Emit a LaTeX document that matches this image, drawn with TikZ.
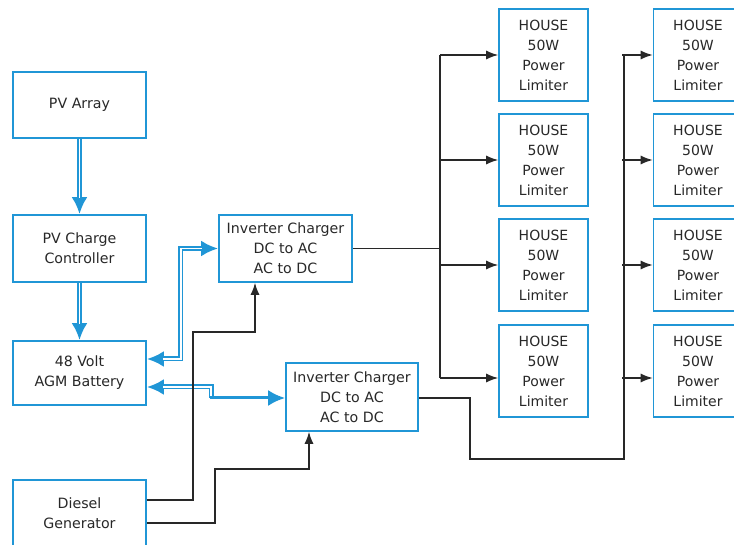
\documentclass[tikz,border=0pt]{standalone}
\usepackage{fontspec}
\setmainfont{DejaVu Sans}
\usetikzlibrary{arrows.meta}
\definecolor{boxblue}{RGB}{32,150,214}
\definecolor{linegray}{RGB}{40,40,40}
\definecolor{textgray}{RGB}{40,40,40}
\tikzset{
  blk/.style={draw=boxblue, line width=1.6pt, fill=white, align=center, text=textgray,
    font=\fontsize{14.2}{20}\selectfont, inner sep=0pt},
  housebox/.style={blk, minimum width=89pt, minimum height=92pt, font=\fontsize{14}{20}\selectfont},
  wire/.style={draw=linegray, line width=1.3pt},
  wirearrow/.style={wire, -{Latex[length=12pt,width=9pt]}},
  bluebase/.style={draw=boxblue, line width=5pt},
  bluegap/.style={draw=white, line width=1.6pt},
  btip/.tip={Latex[length=17pt,width=16pt]},
}
\begin{document}
\begin{tikzpicture}[x=1pt,y=-1pt]
\useasboundingbox (0,0) rectangle (734,545);
\begin{scope}
\clip (0,0) rectangle (734,545);
% left column
\node[blk, minimum width=133pt, minimum height=66pt] (pv) at (79.5,105) {PV Array};
\node[blk, minimum width=133pt, minimum height=67pt] (cc) at (79.5,248.5) {PV Charge\\Controller};
\node[blk, minimum width=133pt, minimum height=64pt] (bat) at (79.5,373) {48 Volt\\AGM Battery};
\node[blk, minimum width=133pt, minimum height=67pt] (dg) at (79.5,513.5) {Diesel\\Generator};
% inverters
\node[blk, minimum width=133pt, minimum height=67pt] (inv1) at (285.5,248.5) {Inverter Charger\\DC to AC\\AC to DC};
\node[blk, minimum width=132pt, minimum height=68pt] (inv2) at (352,397) {Inverter Charger\\DC to AC\\AC to DC};
% houses
\node[housebox] (ha1) at (543.5,55) {HOUSE\\50W\\Power\\Limiter};
\node[housebox] (ha2) at (543.5,160) {HOUSE\\50W\\Power\\Limiter};
\node[housebox] (ha3) at (543.5,265) {HOUSE\\50W\\Power\\Limiter};
\node[housebox] (ha4) at (543.5,371) {HOUSE\\50W\\Power\\Limiter};
\node[housebox] (hb1) at (698,55) {HOUSE\\50W\\Power\\Limiter};
\node[housebox] (hb2) at (698,160) {HOUSE\\50W\\Power\\Limiter};
\node[housebox] (hb3) at (698,265) {HOUSE\\50W\\Power\\Limiter};
\node[housebox] (hb4) at (698,371) {HOUSE\\50W\\Power\\Limiter};
\end{scope}
% blue double connectors
\draw[bluebase, -{btip}] (pv.south) -- (cc.north);
\draw[bluegap, shorten >=16pt] (pv.south) -- (cc.north);
\draw[bluebase, -{btip}] (cc.south) -- (bat.north);
\draw[bluegap, shorten >=16pt] (cc.south) -- (bat.north);
\draw[bluebase, {btip}-{btip}] ([yshift=14pt]bat.east) -- ++(34,0) |- (inv1.west);
\draw[bluegap, shorten >=16pt, shorten <=16pt] ([yshift=14pt]bat.east) -- ++(34,0) |- (inv1.west);
\coordinate (bstep) at (211,398);
\draw[bluebase, {btip}-] ([yshift=-14pt]bat.east) -| (bstep);
\draw[bluegap, shorten <=16pt] ([yshift=-14pt]bat.east) -| (bstep);
\draw[draw=boxblue, line width=3pt, -{btip}] ([xshift=-1.5pt]bstep) -- (bstep -| inv2.west);
% black connectors from generator
\draw[wirearrow] ([yshift=13.5pt]dg.east) -| (193,332) -| ([xshift=-30.5pt]inv1.south);
\draw[wirearrow] ([yshift=-9.5pt]dg.east) -| (215,469) -| ([xshift=-43pt]inv2.south);
% bus 1
\coordinate (a1) at (440,55);
\coordinate (a2) at (440,160);
\coordinate (a3) at (440,265);
\coordinate (a4) at (440,378);
\draw[wire] (inv1.east) -- (inv1.east -| a1);
\draw[wire] (a1) -- (a4);
\draw[wirearrow] (a1) -- (a1 -| ha1.west);
\draw[wirearrow] (a2) -- (a2 -| ha2.west);
\draw[wirearrow] (a3) -- (a3 -| ha3.west);
\draw[wirearrow] (a4) -- (a4 -| ha4.west);
% bus 2
\coordinate (c1) at (624,55);
\coordinate (c2) at (624,160);
\coordinate (c3) at (624,265);
\coordinate (c4) at (624,378);
\coordinate (cbot) at (624,459);
\draw[wire] ([yshift=-1pt]inv2.east) -| (470,459) -- (cbot) -- (c1);
\draw[wirearrow] ([xshift=-2pt]c1) -- (c1 -| hb1.west);
\draw[wirearrow] ([xshift=-2pt]c2) -- (c2 -| hb2.west);
\draw[wirearrow] ([xshift=-2pt]c3) -- (c3 -| hb3.west);
\draw[wirearrow] ([xshift=-2pt]c4) -- (c4 -| hb4.west);
\end{tikzpicture}
\end{document}
